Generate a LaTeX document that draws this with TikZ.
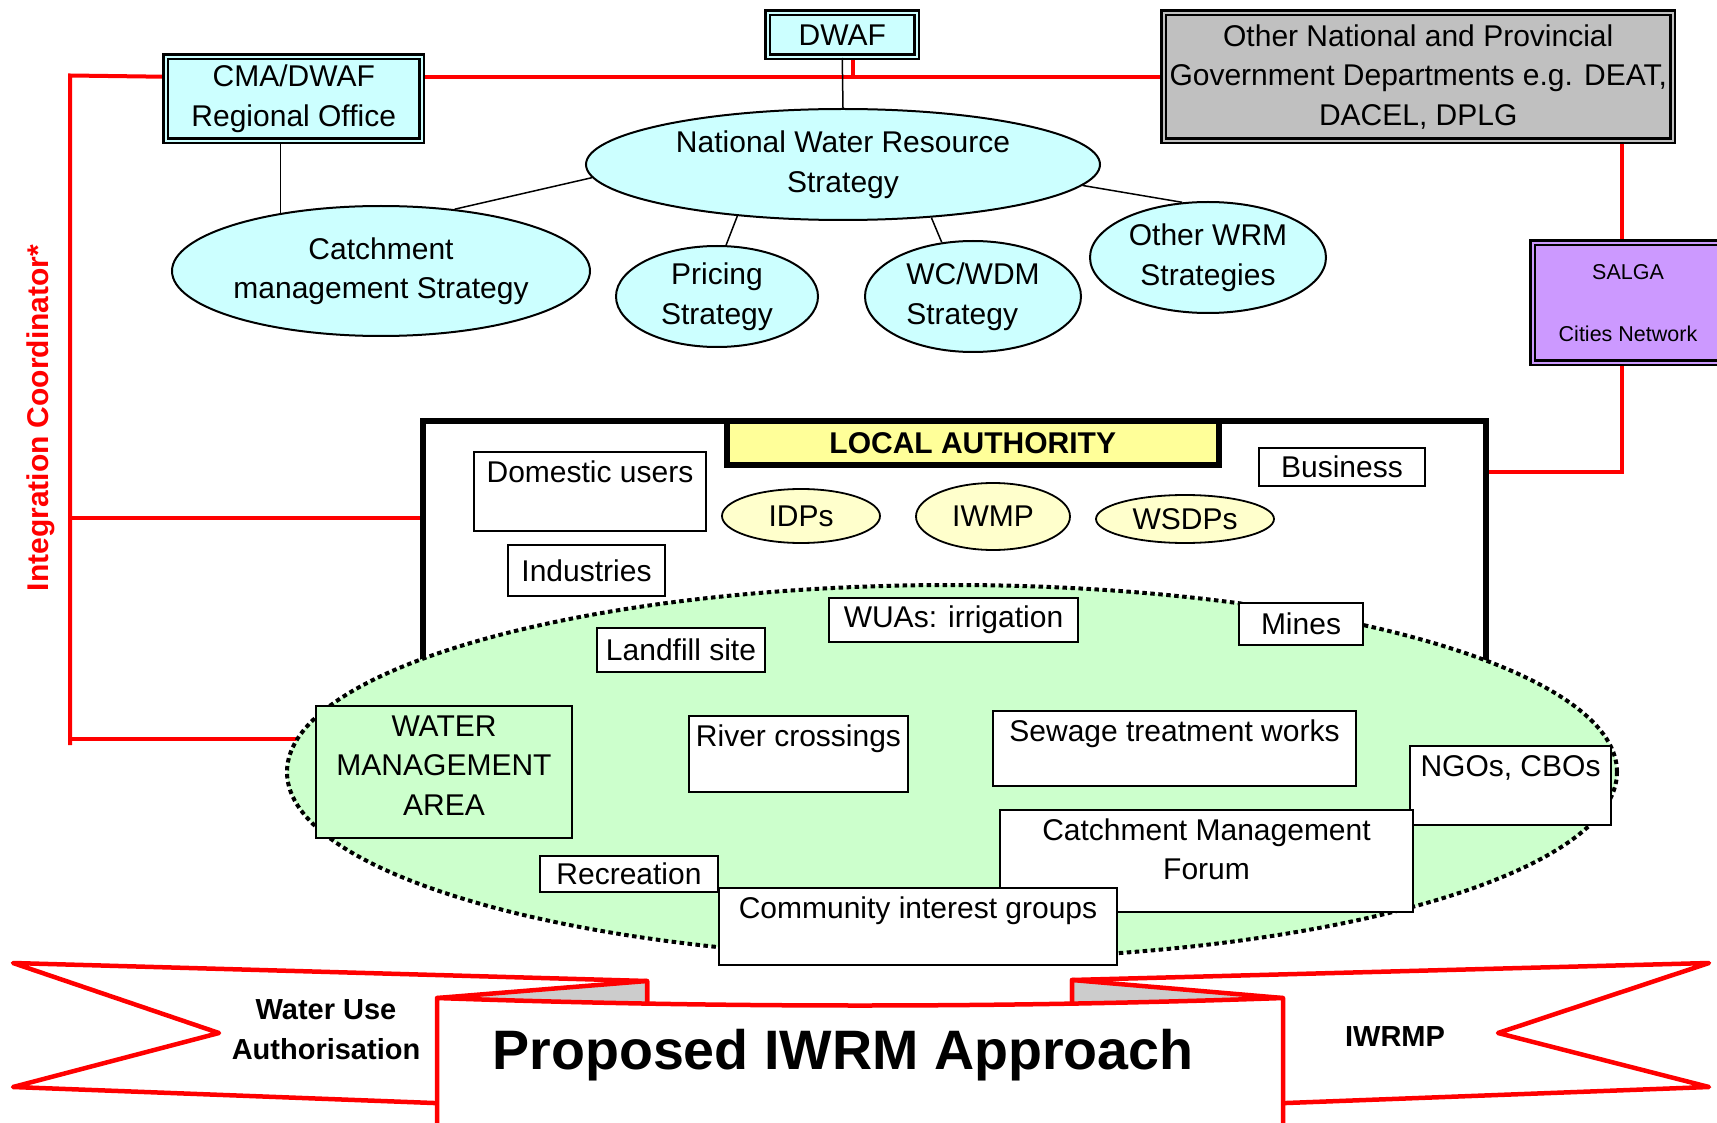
\documentclass[tikz,border=0pt]{standalone}
\usepackage{fontspec}
\setmainfont{Liberation Sans}
\usetikzlibrary{shapes.geometric, positioning, backgrounds, calc}
\definecolor{stratCyan}{HTML}{CCFFFF}
\definecolor{deptGrey}{HTML}{C0C0C0}
\definecolor{salgaPurple}{HTML}{CC99FF}
\definecolor{titleYellow}{HTML}{FFFF99}
\definecolor{planYellow}{HTML}{FFFFCC}
\definecolor{zoneGreen}{HTML}{CCFFCC}
\definecolor{foldGrey}{HTML}{CCCCCC}
\definecolor{linkRed}{HTML}{FF0000}

\begin{document}
\begin{tikzpicture}[
    x=1pt, y=-1pt,
    txt/.style={font=\fontsize{30}{39.5}\selectfont, inner sep=0pt},
    office/.style={txt, rectangle, draw=black, line width=2.5pt, double=#1, double distance=2pt, fill=#1, align=center, anchor=north west},
    stratell/.style={txt, ellipse, draw=black, line width=2pt, fill=stratCyan, align=center},
    planell/.style={txt, ellipse, draw=black, line width=1.8pt, fill=planYellow},
    itembox/.style={txt, rectangle, draw=black, line width=2pt, fill=white, anchor=north west, align=center},
    toptext/.style={text height=22pt, text depth=#1, inner ysep=8pt},
    connect/.style={draw=black, line width=1.5pt},
    redlink/.style={draw=linkRed, line width=4pt},
    ribbon/.style={draw=linkRed, line width=4.5pt, line join=round, fill=white}
]
\useasboundingbox (0,0) rectangle (1717,1123);

% Offices and departments
\node[office=stratCyan, minimum width=256, minimum height=84] (cmaOffice) at (164.5,55.5) {CMA/DWAF\\Regional Office};
\node[office=stratCyan, minimum width=149, minimum height=44] (dwaf) at (766.5,11.5) {DWAF};
\node[office=deptGrey, minimum width=509, minimum height=128] (otherDepts) at (1162.5,11.5) {Other National and Provincial\\Government Departments e.g. DEAT,\\DACEL, DPLG};
\node[office=salgaPurple, minimum width=190.5, minimum height=120, font=\fontsize{21.5}{31}\selectfont] (salga) at (1531.5,241.5) {SALGA\\[31pt]Cities Network};

% Strategies
\node[stratell, minimum width=514, minimum height=111] (nwrs) at (843,164.5) {National Water Resource\\Strategy};
\node[stratell, minimum width=418, minimum height=130] (catchStrat) at (381,271) {Catchment\\management Strategy};
\node[stratell, minimum width=202, minimum height=101] (pricingStrat) at (717,296.5) {Pricing\\Strategy};
\node[stratell, minimum width=216, minimum height=111, align=left] (wcwdmStrat) at (973,296.5) {WC/WDM\\Strategy};
\node[stratell, minimum width=236, minimum height=111] (otherWrm) at (1208,257.5) {Other WRM\\Strategies};

\draw[connect] (dwaf.south) -- (nwrs.north);
\draw[connect] (catchStrat.150) -- (catchStrat.150 |- cmaOffice.south);
\draw[connect] (nwrs.183) -- (catchStrat.40);
\draw[connect] (nwrs.206) -- (pricingStrat.80);
\draw[connect] (nwrs.329) -- (wcwdmStrat.120);
\draw[connect] (nwrs.355) -- (otherWrm.115);

% Local authority and water management area
\node[draw=black, line width=6pt, anchor=north west, minimum width=1063, minimum height=300, inner sep=0pt] (localAuth) at (420,417.5) {};
\node[ellipse, draw=black, line width=4pt, dash pattern=on 4.5pt off 3.5pt, fill=zoneGreen, minimum width=1330, minimum height=374, inner sep=0pt] (wmZone) at (952,772) {};
\node[draw=black, line width=6pt, fill=titleYellow, anchor=north west, minimum width=491.5, minimum height=44.5, inner sep=0pt, font=\bfseries\fontsize{30}{36}\selectfont] (laTitle) at (724,417.5) {LOCAL AUTHORITY};

\node[itembox, toptext=41pt, minimum width=232] (domestic) at (473,451) {Domestic users};
\node[itembox, minimum width=157, minimum height=51] (industries) at (507,544) {Industries};
\node[itembox, minimum width=166, minimum height=38] (business) at (1258,447) {Business};
\node[planell, minimum width=158, minimum height=54] (idps) at (801,516) {IDPs};
\node[planell, minimum width=154, minimum height=67] (iwmp) at (993,516.5) {IWMP};
\node[planell, minimum width=178, minimum height=48] (wsdps) at (1185,519) {WSDPs};

\node[itembox, minimum width=168, minimum height=44] (landfill) at (596,627) {Landfill site};
\node[itembox, minimum width=249, minimum height=44] (wuas) at (828,597) {WUAs: irrigation};
\node[itembox, minimum width=124, minimum height=42] (mines) at (1238,602) {Mines};
\node[itembox, fill=zoneGreen, toptext=15pt, text height=101pt, minimum width=256] (wma) at (315,705) {WATER\\MANAGEMENT\\AREA};
\node[itembox, toptext=38pt, minimum width=219] (river) at (688,715) {River crossings};
\node[itembox, toptext=37pt, minimum width=363] (sewage) at (992,710) {Sewage treatment works};
\node[itembox, toptext=41pt, minimum width=201] (ngos) at (1409,745) {NGOs, CBOs};
\node[itembox, toptext=24.5pt, text height=61.5pt, minimum width=413] (cmf) at (999,809) {Catchment Management\\Forum};
\node[itembox, minimum width=178, minimum height=36] (recreation) at (539,855) {Recreation};
\node[itembox, toptext=39pt, minimum width=398] (community) at (718,887) {Community interest groups};

% Integration coordinator links
\node[rotate=90, text=linkRed, font=\bfseries\fontsize{30}{36}\selectfont] (coordLabel) at (41,418) {Integration Coordinator*};
\begin{scope}[on background layer]
\coordinate (icTop) at (70,75.5);
\coordinate (icFoot) at (70,745);
\coordinate (laJoin) at ([yshift=-100pt]localAuth.north west);
\coordinate (wmaJoin) at ([yshift=-34pt]wma.north west);
\coordinate (salgaTop) at ([xshift=-6pt]salga.north);
\coordinate (salgaFoot) at ([xshift=-6pt]salga.south);
\draw[redlink] (cmaOffice.west |- otherDepts.west) -- (icTop) -- (icFoot);
\draw[redlink] (cmaOffice.east |- otherDepts.west) -- (otherDepts.west);
\draw[redlink] ([xshift=11pt]dwaf.south) -- ([xshift=11pt]dwaf.south |- otherDepts.west);
\draw[redlink] (laJoin -| icTop) -- (laJoin);
\draw[redlink] (wmaJoin -| icTop) -- (wmaJoin);
\draw[redlink] (otherDepts.south -| salgaTop) -- (salgaTop);
\draw[redlink] (salgaFoot) |- ([yshift=-54pt]localAuth.north east);
\end{scope}

% Banner
\draw[ribbon] (647,1003) -- (647,981) -- (13,963) -- (219,1033) -- (13,1087) -- (460,1104) -- (460,1003) -- cycle;
\draw[ribbon, fill=foldGrey] (437,998) -- (647,981) -- (647,1003);
\draw[ribbon] (1072,1003) -- (1072,980) -- (1709,963) -- (1498,1033) -- (1709,1087) -- (1260,1104) -- (1260,1003) -- cycle;
\draw[ribbon, fill=foldGrey] (1283,998) -- (1072,980) -- (1072,1003);
\draw[ribbon] (437,1140) -- (437,998) .. controls (720,1008) and (1000,1008) .. (1283,998) -- (1283,1140);
\node[font=\bfseries\fontsize{29}{40}\selectfont, align=center] (useAuth) at (326,1030) {Water Use\\Authorisation};
\node[font=\bfseries\fontsize{29}{36}\selectfont] (iwrmp) at (1395,1037) {IWRMP};
\node[font=\bfseries\fontsize{55.6}{66}\selectfont] (approach) at (843,1055) {Proposed IWRM Approach};
\end{tikzpicture}
\end{document}
